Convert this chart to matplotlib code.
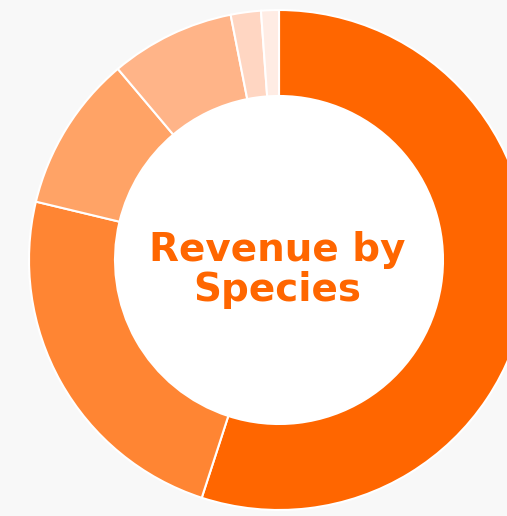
import matplotlib.pyplot as plt
import matplotlib.patches as mpatches

shares = [55.0, 23.75, 10.1, 8.05, 1.95, 1.15]
colors = ['#ff6600', '#ff8533', '#ffa366', '#ffb488', '#ffd6c2', '#ffece4']
title_lines = ['Revenue by', 'Species']

fig = plt.figure(figsize=(5.07, 5.16), dpi=100)
fig.patch.set_facecolor('#f8f8f8')
ax = fig.add_axes([0, 0, 1, 1])

cx, cy, r, r_in = 279, 256, 250, 164
ax.pie(shares, colors=colors, startangle=90, counterclock=False,
       center=(cx, cy), radius=r, frame=True,
       wedgeprops=dict(width=r - r_in, edgecolor='white', linewidth=1.5))
ax.add_patch(mpatches.Circle((cx, cy), r_in, facecolor='white', edgecolor='none', zorder=3))
ax.set_xlim(0, 507)
ax.set_ylim(0, 516)
ax.set_aspect('equal')
ax.axis('off')

# baselines measured from the top of the picture
for line, base in zip(title_lines, [261, 301]):
    ax.text(cx - 2, 516 - base, line, ha='center', va='baseline', fontsize=28,
            fontweight='bold', color='#ff6600', family='DejaVu Sans', zorder=4)

fig.savefig('out.png', dpi=100, facecolor=fig.get_facecolor())
